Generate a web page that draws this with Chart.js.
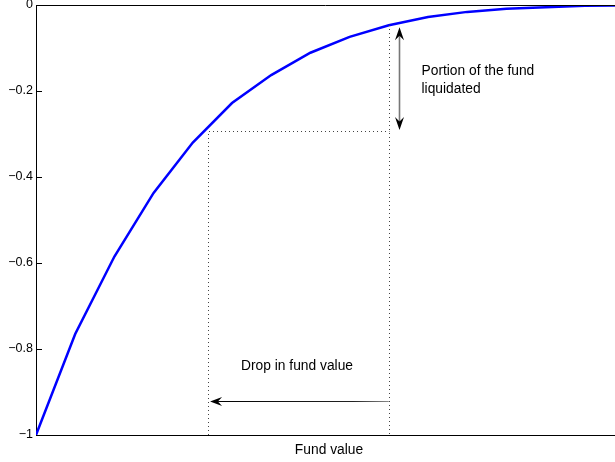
<!DOCTYPE html>
<html>
<head>
<meta charset="utf-8">
<script src="https://cdn.jsdelivr.net/npm/chart.js@4/dist/chart.umd.min.js"></script>
<style>
  html, body { margin: 0; padding: 0; background: #fff; }
  #wrap { width: 615px; height: 462px; }
</style>
</head>
<body>
<div id="wrap"><canvas id="fund-curve"></canvas></div>
<script>
// curve, one point per unit of fund value
var fundValue = [0, 1, 2, 3, 4, 5, 6, 7, 8, 9, 10, 11, 12, 13, 14, 15];
var fundReturn = [-1, -0.765, -0.585, -0.437, -0.320, -0.228, -0.163, -0.111,
                  -0.074, -0.047, -0.028, -0.016, -0.009, -0.005, -0.002, -0.001];
var yTicks = [0, -0.2, -0.4, -0.6, -0.8, -1];
var xMax = 14.77;          // the right edge of the picture cuts the axes here

// annotation anchors (data units)
var dropFrom = 9;          // fund value before the drop
var dropTo = 4.39;         // fund value after the drop
var levelBefore = -0.047;  // curve value at dropFrom
var levelAfter = -0.293;   // curve value at dropTo
var liquidArrowX = 9.25;
var dropArrowY = -0.921;

var FONT = '"Liberation Sans", Arial, Helvetica, sans-serif';

function arrowHead(ctx, tx, ty, dx, dy, len, half) {
    var px = -dy, py = dx;
    var bx = tx - dx * len, by = ty - dy * len;
    var nx = tx - dx * len * 0.65, ny = ty - dy * len * 0.65;
    ctx.beginPath();
    ctx.moveTo(tx, ty);
    ctx.lineTo(bx + px * half, by + py * half);
    ctx.lineTo(nx, ny);
    ctx.lineTo(bx - px * half, by - py * half);
    ctx.closePath();
    ctx.fill();
}

var extras = {
    id: 'extras',
    afterDraw: function (chart) {
        var ctx = chart.ctx;
        var xs = chart.scales.x, ys = chart.scales.y;
        var area = chart.chartArea;
        ctx.save();

        // top frame line
        ctx.strokeStyle = '#000';
        ctx.lineWidth = 1;
        ctx.beginPath();
        ctx.moveTo(area.left, Math.round(area.top) + 0.5);
        ctx.lineTo(chart.width, Math.round(area.top) + 0.5);
        ctx.stroke();

        // inward tick marks
        yTicks.forEach(function (v) {
            var y = Math.round(ys.getPixelForValue(v)) + 0.5;
            ctx.beginPath();
            ctx.moveTo(area.left, y);
            ctx.lineTo(area.left + 6, y);
            ctx.stroke();
        });

        // dotted guides
        var x1 = Math.round(xs.getPixelForValue(dropTo)) + 0.5;
        var x2 = Math.round(xs.getPixelForValue(dropFrom)) + 0.5;
        var yL = Math.round(ys.getPixelForValue(levelAfter)) + 0.5;
        var yB = Math.round(ys.getPixelForValue(levelBefore));
        var yBottom = area.bottom;
        ctx.strokeStyle = '#444';
        ctx.setLineDash([1, 3]);
        ctx.beginPath();
        ctx.moveTo(x1, yBottom); ctx.lineTo(x1, yL);
        ctx.lineTo(x2, yL);
        ctx.moveTo(x2, yB); ctx.lineTo(x2, yBottom);
        ctx.stroke();
        ctx.setLineDash([]);

        // double arrow: portion liquidated
        var ax = Math.round(xs.getPixelForValue(liquidArrowX)) + 0.5;
        var aTop = ys.getPixelForValue(levelBefore) + 2;
        var aBot = ys.getPixelForValue(levelAfter) - 1;
        ctx.strokeStyle = '#777';
        ctx.lineWidth = 1.6;
        ctx.beginPath();
        ctx.moveTo(ax, aTop + 8); ctx.lineTo(ax, aBot - 8);
        ctx.stroke();
        ctx.fillStyle = '#000';
        arrowHead(ctx, ax, aTop, 0, -1, 13, 4.5);
        arrowHead(ctx, ax, aBot, 0, 1, 13, 4.5);

        // left arrow: drop in fund value
        var dy = Math.round(ys.getPixelForValue(dropArrowY)) + 0.5;
        var dL = xs.getPixelForValue(dropTo) + 2;
        var dR = xs.getPixelForValue(dropFrom);
        var grad = ctx.createLinearGradient(dL, 0, dR, 0);
        grad.addColorStop(0, '#000');
        grad.addColorStop(0.8, '#222');
        grad.addColorStop(1, '#888');
        ctx.strokeStyle = grad;
        ctx.lineWidth = 1;
        ctx.beginPath();
        ctx.moveTo(dL + 8, dy); ctx.lineTo(dR, dy);
        ctx.stroke();
        arrowHead(ctx, dL, dy, -1, 0, 12, 4.5);

        // texts
        ctx.fillStyle = '#000';
        ctx.font = '13.8px ' + FONT;
        ctx.textBaseline = 'alphabetic';
        ctx.textAlign = 'left';
        ctx.fillText('Portion of the fund', ax + 22, 75);
        ctx.fillText('liquidated', ax + 22, 93);
        ctx.textAlign = 'center';
        ctx.fillText('Drop in fund value', (x1 + x2) / 2 - 2, 370);
        ctx.fillText('Fund value', (area.left + area.right) / 2 + 3.5, 454);
        ctx.restore();
    }
};

new Chart(document.getElementById('fund-curve'), {
    type: 'line',
    data: {
        labels: fundValue,
        datasets: [{
            data: fundReturn,
            borderColor: '#0000ff',
            borderWidth: 2.5,
            pointRadius: 0,
            tension: 0,
            fill: false
        }]
    },
    options: {
        responsive: true,
        maintainAspectRatio: false,
        animation: false,
        events: [],
        layout: { padding: { top: 5, right: 0, bottom: 0, left: 0 } },
        plugins: { legend: { display: false }, tooltip: { enabled: false } },
        scales: {
            x: {
                type: 'linear',
                min: 0,
                max: xMax,
                ticks: { display: false },
                grid: { display: false, drawTicks: false },
                border: { display: true, color: '#000', width: 1 },
                afterFit: function (s) { s.height = 27; }
            },
            y: {
                min: -1,
                max: 0,
                afterBuildTicks: function (s) {
                    s.ticks = yTicks.map(function (v) { return { value: v }; });
                },
                ticks: {
                    color: '#000',
                    padding: 3,
                    font: { family: FONT, size: 12.5 },
                    callback: function (v) {
                        return v === 0 ? '0' : String(v).replace('-', '\u2212');
                    }
                },
                grid: { display: true, drawOnChartArea: false, drawTicks: false },
                border: { display: true, color: '#000', width: 1 },
                afterFit: function (s) {
                    s.width = 36;
                    s.paddingTop = 0;
                    s.paddingBottom = 0;
                }
            }
        }
    },
    plugins: [extras]
});
</script>
</body>
</html>
